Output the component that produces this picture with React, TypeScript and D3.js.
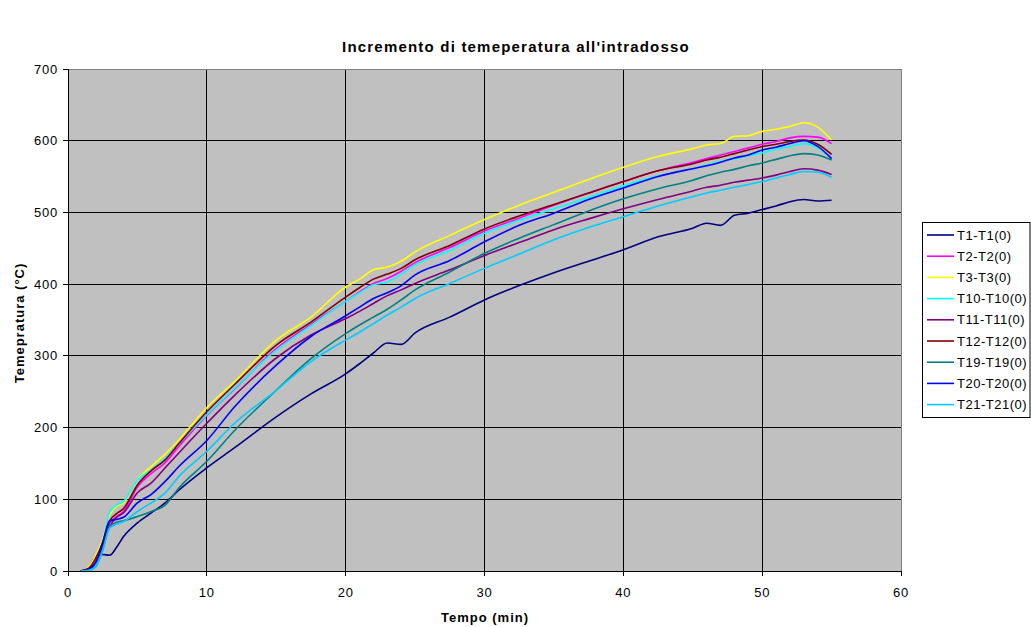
import React from 'react';
import * as d3 from 'd3';

// tempo (min)
const tempo = [0.9, 1.5, 2, 2.5, 3, 3.5, 4, 5, 6, 7, 8, 10, 12, 15, 17.5, 20, 21, 22, 23, 24, 25, 27.5, 30, 32.5, 35, 37.5, 40, 42.5, 45, 46, 47, 48, 49, 50, 51, 52, 53, 54, 55];

const t1 = [0, 5, 20, 23, 22, 33, 48, 67, 81, 95, 113, 144, 172, 215, 247, 275, 289, 304, 318, 316, 332, 354, 378, 398, 416, 432, 448, 466, 478, 485, 482, 496, 499, 504, 509, 515, 518, 516, 517];
const t2 = [0, 3, 14, 35, 66, 76, 83, 117, 136, 151, 174, 217, 254, 310, 344, 376, 389, 401, 408, 418, 430, 451, 474, 492, 510, 527, 543, 558, 570, 575, 580, 585, 590, 595, 599, 604, 606, 605, 596];
const t3 = [0, 6, 22, 45, 78, 90, 95, 127, 146, 163, 183, 228, 264, 322, 354, 396, 407, 420, 424, 432, 445, 468, 490, 510, 528, 546, 563, 578, 589, 594, 596, 606, 607, 613, 616, 620, 625, 619, 601];
const t10 = [0, 2, 10, 38, 82, 92, 97, 127, 141, 157, 178, 218, 255, 308, 342, 376, 388, 399, 403, 414, 427, 447, 471, 489, 505, 521, 537, 551, 561, 566, 571, 575, 579, 583, 588, 592, 596, 590, 575];
const t11 = [0, 2, 12, 35, 62, 75, 81, 109, 123, 144, 165, 206, 245, 297, 329, 352, 362, 373, 384, 392, 401, 420, 440, 458, 476, 491, 505, 518, 530, 535, 538, 542, 545, 548, 552, 557, 561, 559, 553];
const t12 = [0, 4, 18, 40, 70, 80, 87, 120, 140, 155, 178, 222, 260, 315, 347, 382, 395, 407, 414, 422, 434, 454, 477, 495, 511, 527, 543, 558, 568, 573, 577, 582, 587, 592, 595, 599, 601, 595, 581];
const t19 = [0, 1, 6, 30, 62, 68, 70, 76, 83, 92, 116, 153, 196, 252, 296, 331, 343, 354, 365, 378, 392, 417, 443, 464, 483, 502, 519, 533, 545, 551, 556, 560, 565, 569, 574, 579, 582, 580, 573];
const t20 = [0, 3, 12, 40, 70, 72, 75, 95, 107, 125, 146, 182, 229, 287, 327, 356, 368, 380, 388, 398, 413, 433, 459, 482, 499, 518, 534, 550, 561, 565, 570, 576, 580, 587, 591, 596, 600, 592, 575];
const t21 = [0, 1, 6, 28, 60, 65, 69, 83, 95, 109, 132, 167, 206, 252, 292, 322, 333, 345, 357, 368, 380, 401, 422, 442, 462, 479, 494, 509, 522, 527, 531, 535, 539, 543, 548, 553, 557, 556, 549];

const seriesNames = ['T1-T1(0)', 'T2-T2(0)', 'T3-T3(0)', 'T10-T10(0)', 'T11-T11(0)', 'T12-T12(0)', 'T19-T19(0)', 'T20-T20(0)', 'T21-T21(0)'];
const seriesValues = [t1, t2, t3, t10, t11, t12, t19, t20, t21];
const seriesColors = ['#000080', '#FF00FF', '#FFFF00', '#00FFFF', '#800080', '#800000', '#008080', '#0000FF', '#00CCFF'];

const xTicks = [0, 10, 20, 30, 40, 50, 60];
const yTicks = [0, 100, 200, 300, 400, 500, 600, 700];

const W = 1031;
const H = 627;
const left = 68, right = 901, top = 69, bottom = 571;
const font = "'Liberation Sans', Arial, sans-serif";

export default function App() {
  const x = d3.scaleLinear().domain([0, 60]).range([left, right]);
  const y = d3.scaleLinear().domain([0, 700]).range([bottom, top]);
  const line = d3.line<[number, number]>()
    .x(d => x(d[0]))
    .y(d => y(d[1]))
    .curve(d3.curveMonotoneX);

  return (
    <svg width={W} height={H} style={{ position: 'absolute', left: 0, top: 0 }} fontFamily={font}>
      <rect x={0} y={0} width={W} height={H} fill="#fff" />
      <text x={516} y={52} textAnchor="middle" fontSize={15} fontWeight="bold" letterSpacing={1.2}>
        Incremento di temeperatura all'intradosso
      </text>

      <rect x={left} y={top} width={right - left} height={bottom - top} fill="#C0C0C0" />

      {xTicks.slice(1, -1).map(t => (
        <line key={'gx' + t} x1={x(t)} x2={x(t)} y1={top} y2={bottom} stroke="#000" strokeWidth={1} shapeRendering="crispEdges" />
      ))}
      {yTicks.slice(1, -1).map(t => (
        <line key={'gy' + t} x1={left} x2={right} y1={y(t)} y2={y(t)} stroke="#000" strokeWidth={1} shapeRendering="crispEdges" />
      ))}
      <line x1={left} x2={right} y1={top} y2={top} stroke="#808080" shapeRendering="crispEdges" />
      <line x1={right} x2={right} y1={top} y2={bottom} stroke="#808080" shapeRendering="crispEdges" />

      {seriesValues.map((vals, i) => (
        <path
          key={seriesNames[i]}
          d={line(tempo.map((t, j) => [t, vals[j]] as [number, number])) || ''}
          fill="none"
          stroke={seriesColors[i]}
          strokeWidth={1.6}
        />
      ))}

      <line x1={left} x2={left} y1={top} y2={bottom} stroke="#000" shapeRendering="crispEdges" />
      <line x1={left} x2={right} y1={bottom} y2={bottom} stroke="#000" shapeRendering="crispEdges" />

      {yTicks.map(t => (
        <g key={'ty' + t}>
          <line x1={left - 5} x2={left} y1={y(t)} y2={y(t)} stroke="#000" shapeRendering="crispEdges" />
          <text x={58} y={y(t) + 4.5} textAnchor="end" fontSize={13} letterSpacing={0.8}>{t}</text>
        </g>
      ))}
      {xTicks.map(t => (
        <g key={'tx' + t}>
          <line x1={x(t)} x2={x(t)} y1={bottom} y2={bottom + 5} stroke="#000" shapeRendering="crispEdges" />
          <text x={x(t)} y={597} textAnchor="middle" fontSize={13} letterSpacing={0.8}>{t}</text>
        </g>
      ))}

      <text x={485} y={622} textAnchor="middle" fontSize={13} fontWeight="bold" letterSpacing={1}>Tempo (min)</text>
      <text transform={`translate(24, 323) rotate(-90)`} textAnchor="middle" fontSize={13} fontWeight="bold" letterSpacing={1}>
        Temepratura (°C)
      </text>

      <rect x={922.5} y={222.5} width={107.5} height={195} fill="#fff" stroke="#000" strokeWidth={1} />
      {seriesNames.map((name, i) => {
        const ly = 235 + i * 21.2;
        return (
          <g key={'lg' + name}>
            <line x1={927} x2={954} y1={ly} y2={ly} stroke={seriesColors[i]} strokeWidth={1.6} />
            <text x={957} y={ly + 4.5} fontSize={13} letterSpacing={0.5}>{name}</text>
          </g>
        );
      })}
    </svg>
  );
}
